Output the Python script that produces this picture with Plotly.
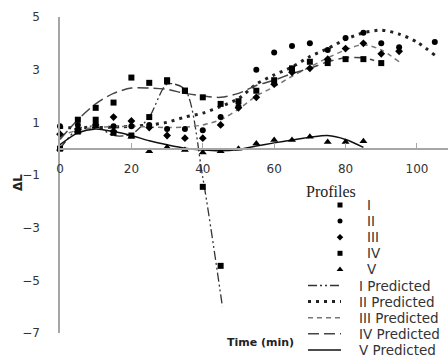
import plotly.graph_objects as go

# ---------------- data ----------------
I_x = [0, 5, 10, 15, 20, 25, 30, 35, 40, 45]
I_y = [0.0, 0.65, 1.1, 0.6, 0.5, 1.2, 2.6, 2.2, -1.45, -4.45]

II_x = [0, 5, 10, 15, 20, 25, 30, 35, 40, 45, 50, 55, 60, 65, 70, 75, 80, 85, 90, 95, 105]
II_y = [0.85, 0.9, 0.95, 0.85, 0.85, 0.9, 0.75, 0.75, 0.7, 1.2, 1.6, 3.0, 3.65, 3.9, 4.0, 3.75, 4.2, 4.4, 4.0, 3.85, 4.05]

III_x = [0, 5, 10, 15, 20, 25, 30, 35, 40, 45, 50, 55, 60, 65, 70, 75, 80, 85, 90, 95]
III_y = [0.55, 0.75, 0.9, 1.2, 1.05, 0.8, 0.5, 0.4, 0.4, 0.9, 1.55, 1.95, 2.45, 2.9, 3.05, 3.4, 3.8, 4.0, 3.6, 3.7]

IV_x = [5, 10, 15, 20, 25, 30, 35, 40, 45, 50, 55, 60, 65, 70, 75, 80, 85, 90]
IV_y = [1.1, 1.55, 1.75, 2.7, 2.5, 2.55, 2.2, 1.95, 1.7, 1.8, 2.2, 2.6, 3.05, 3.3, 3.25, 3.4, 3.4, 3.25]

V_x = [0, 5, 10, 15, 20, 25, 30, 35, 40, 45, 50, 55, 60, 65, 70, 75, 80, 85]
V_y = [0.0, 0.65, 0.85, 0.7, 0.45, -0.1, 0.05, -0.05, -0.15, -0.1, 0.0, 0.2, 0.33, 0.33, 0.45, 0.25, 0.25, 0.28]

# predicted curves
Ip_x = [0, 5, 10, 15, 20, 25, 30, 35, 40, 45.5]
Ip_y = [0.0, 0.75, 0.85, 0.5, 0.55, 1.2, 2.45, 2.25, -1.1, -6.0]

IIp_x = [0, 10, 20, 25, 30, 35, 40, 45, 50, 55, 60, 65, 70, 75, 80, 85, 90, 95, 100, 105]
IIp_y = [0.8, 0.8, 0.85, 0.9, 1.0, 1.2, 1.35, 1.6, 1.9, 2.45, 2.8, 3.1, 3.5, 3.8, 4.15, 4.4, 4.5, 4.35, 4.05, 3.55]

IIIp_x = [0, 5, 10, 20, 30, 35, 40, 45, 50, 55, 60, 65, 70, 75, 80, 85, 90, 95]
IIIp_y = [0.5, 0.7, 0.8, 0.85, 0.8, 0.82, 0.9, 1.1, 1.5, 2.0, 2.35, 2.75, 3.1, 3.45, 3.75, 3.95, 3.75, 3.3]

IVp_x = [0, 5, 10, 15, 20, 25, 30, 35, 40, 45, 50, 55, 60, 65, 70, 75, 80, 85, 88]
IVp_y = [0.35, 1.1, 1.7, 2.1, 2.3, 2.3, 2.25, 2.1, 2.0, 1.95, 2.1, 2.4, 2.6, 2.85, 3.05, 3.3, 3.45, 3.45, 3.35]

Vp_x = [0, 5, 10, 15, 20, 25, 30, 35, 40, 45, 50, 55, 60, 65, 70, 75, 80, 85]
Vp_y = [0.15, 0.6, 0.75, 0.65, 0.5, 0.3, 0.15, 0.02, -0.05, -0.08, -0.03, 0.1, 0.22, 0.33, 0.43, 0.5, 0.35, 0.05]

x_ticks = [0, 20, 40, 60, 80, 100]
y_ticks = [-7, -5, -3, -1, 1, 3, 5]

point_names = ["I", "II", "III", "IV", "V"]
pred_names = ["I Predicted", "II Predicted", "III Predicted", "IV Predicted", "V Predicted"]

# ---------------- styles ----------------
W, H = 448, 358
PL, PR, PT, PB = 60, 448, 17, 333   # plot area in pixels
symbols = ["square", "circle", "diamond", "square", "triangle-up"]
msizes = [6, 6, 6, 6, 7]
line_styles = [
    dict(color="#333333", width=1.3, dash="9px,3px,2px,3px,2px,3px"),
    dict(color="#222222", width=3, dash="3px,5px"),
    dict(color="#777777", width=1.5, dash="5px,4px"),
    dict(color="#444444", width=1.5, dash="11px,5px"),
    dict(color="#111111", width=1.5),
]
FONT = "DejaVu Sans"

fig = go.Figure()

points = [(I_x, I_y), (II_x, II_y), (III_x, III_y), (IV_x, IV_y), (V_x, V_y)]
preds = [(Ip_x, Ip_y), (IIp_x, IIp_y), (IIIp_x, IIIp_y), (IVp_x, IVp_y), (Vp_x, Vp_y)]

for (px, py), ls, nm in zip(preds, line_styles, pred_names):
    fig.add_trace(go.Scatter(x=px, y=py, mode="lines", name=nm,
                             line=dict(shape="spline", smoothing=0.8, **ls),
                             showlegend=False, cliponaxis=False))
for (px, py), sym, ms, nm in zip(points, symbols, msizes, point_names):
    fig.add_trace(go.Scatter(x=px, y=py, mode="markers", name=nm,
                             marker=dict(symbol=sym, size=ms, color="black"),
                             showlegend=False, cliponaxis=False))

# ---------------- hand-built legend in a full-page pixel overlay axis ----------------
LEG_MARK_X = 340
LEG_LINE_X0, LEG_LINE_X1 = 308, 341
LEG_TEXT_X_PTS = 365
LEG_TEXT_X_PRED = 357
LEG_Y0, LEG_DY = 205, 16.1

for i, (sym, ms) in enumerate(zip(symbols, msizes)):
    yy = LEG_Y0 + i * LEG_DY
    fig.add_trace(go.Scatter(x=[LEG_MARK_X], y=[yy], mode="markers", xaxis="x2", yaxis="y2",
                             marker=dict(symbol=sym, size=ms - 1, color="black"),
                             showlegend=False, cliponaxis=False, hoverinfo="skip"))
for j, ls in enumerate(line_styles):
    yy = LEG_Y0 + (5 + j) * LEG_DY
    fig.add_trace(go.Scatter(x=[LEG_LINE_X0, LEG_LINE_X1], y=[yy, yy], mode="lines", xaxis="x2", yaxis="y2",
                             line=ls, showlegend=False, cliponaxis=False, hoverinfo="skip"))

annotations = []
for i, nm in enumerate(point_names + pred_names):
    yy = LEG_Y0 + i * LEG_DY
    annotations.append(dict(x=LEG_TEXT_X_PTS if i < 5 else LEG_TEXT_X_PRED, y=yy,
                            xref="x2", yref="y2", text=nm, showarrow=False,
                            xanchor="left", yanchor="middle",
                            font=dict(family=FONT, size=13.5, color="#333333")))
annotations.append(dict(x=331, y=191, xref="x2", yref="y2", text="Profiles", showarrow=False,
                        xanchor="center", yanchor="middle",
                        font=dict(family="Liberation Serif", size=16, color="#222222")))
annotations.append(dict(x=260, y=342, xref="x2", yref="y2", text="<b>Time (min)</b>", showarrow=False,
                        xanchor="center", yanchor="middle",
                        font=dict(family=FONT, size=11, color="#222222")))
annotations.append(dict(x=18, y=183, xref="x2", yref="y2", text="<b>ΔL</b>", showarrow=False,
                        textangle=-90, xanchor="center", yanchor="middle",
                        font=dict(family=FONT, size=12, color="#222222")))

y_lo, y_hi = min(y_ticks), max(y_ticks)
fig.update_layout(
    width=W, height=H, autosize=False,
    margin=dict(l=0, r=0, t=0, b=0, pad=0, autoexpand=False),
    paper_bgcolor="white", plot_bgcolor="rgba(0,0,0,0)",
    showlegend=False,
    annotations=annotations,
    xaxis=dict(domain=[PL / W, PR / W], range=[0, 108.7], anchor="free",
               position=(H - PB + (0 - y_lo) / (y_hi - y_lo) * (PB - PT)) / H,
               showline=True, linecolor="#a6a6a6", linewidth=1.5,
               ticks="inside", ticklen=5, tickcolor="#a6a6a6", tickwidth=1,
               tickvals=x_ticks, ticklabelstandoff=9, automargin=False,
               showgrid=False, zeroline=False,
               tickfont=dict(family=FONT, size=12, color="#333333")),
    yaxis=dict(domain=[(H - PB) / H, (H - PT) / H], range=[y_lo, y_hi], anchor="x",
               showline=True, linecolor="#a6a6a6", linewidth=1.5,
               ticks="", tickvals=y_ticks, ticklabelstandoff=16, automargin=False,
               showgrid=False, zeroline=False,
               tickfont=dict(family=FONT, size=12, color="#333333")),
    xaxis2=dict(domain=[0, 1], anchor="y2", range=[0, W], visible=False, automargin=False),
    yaxis2=dict(domain=[0, 1], anchor="x2", range=[H, 0], visible=False, automargin=False),
)

fig.write_html("out.html")
